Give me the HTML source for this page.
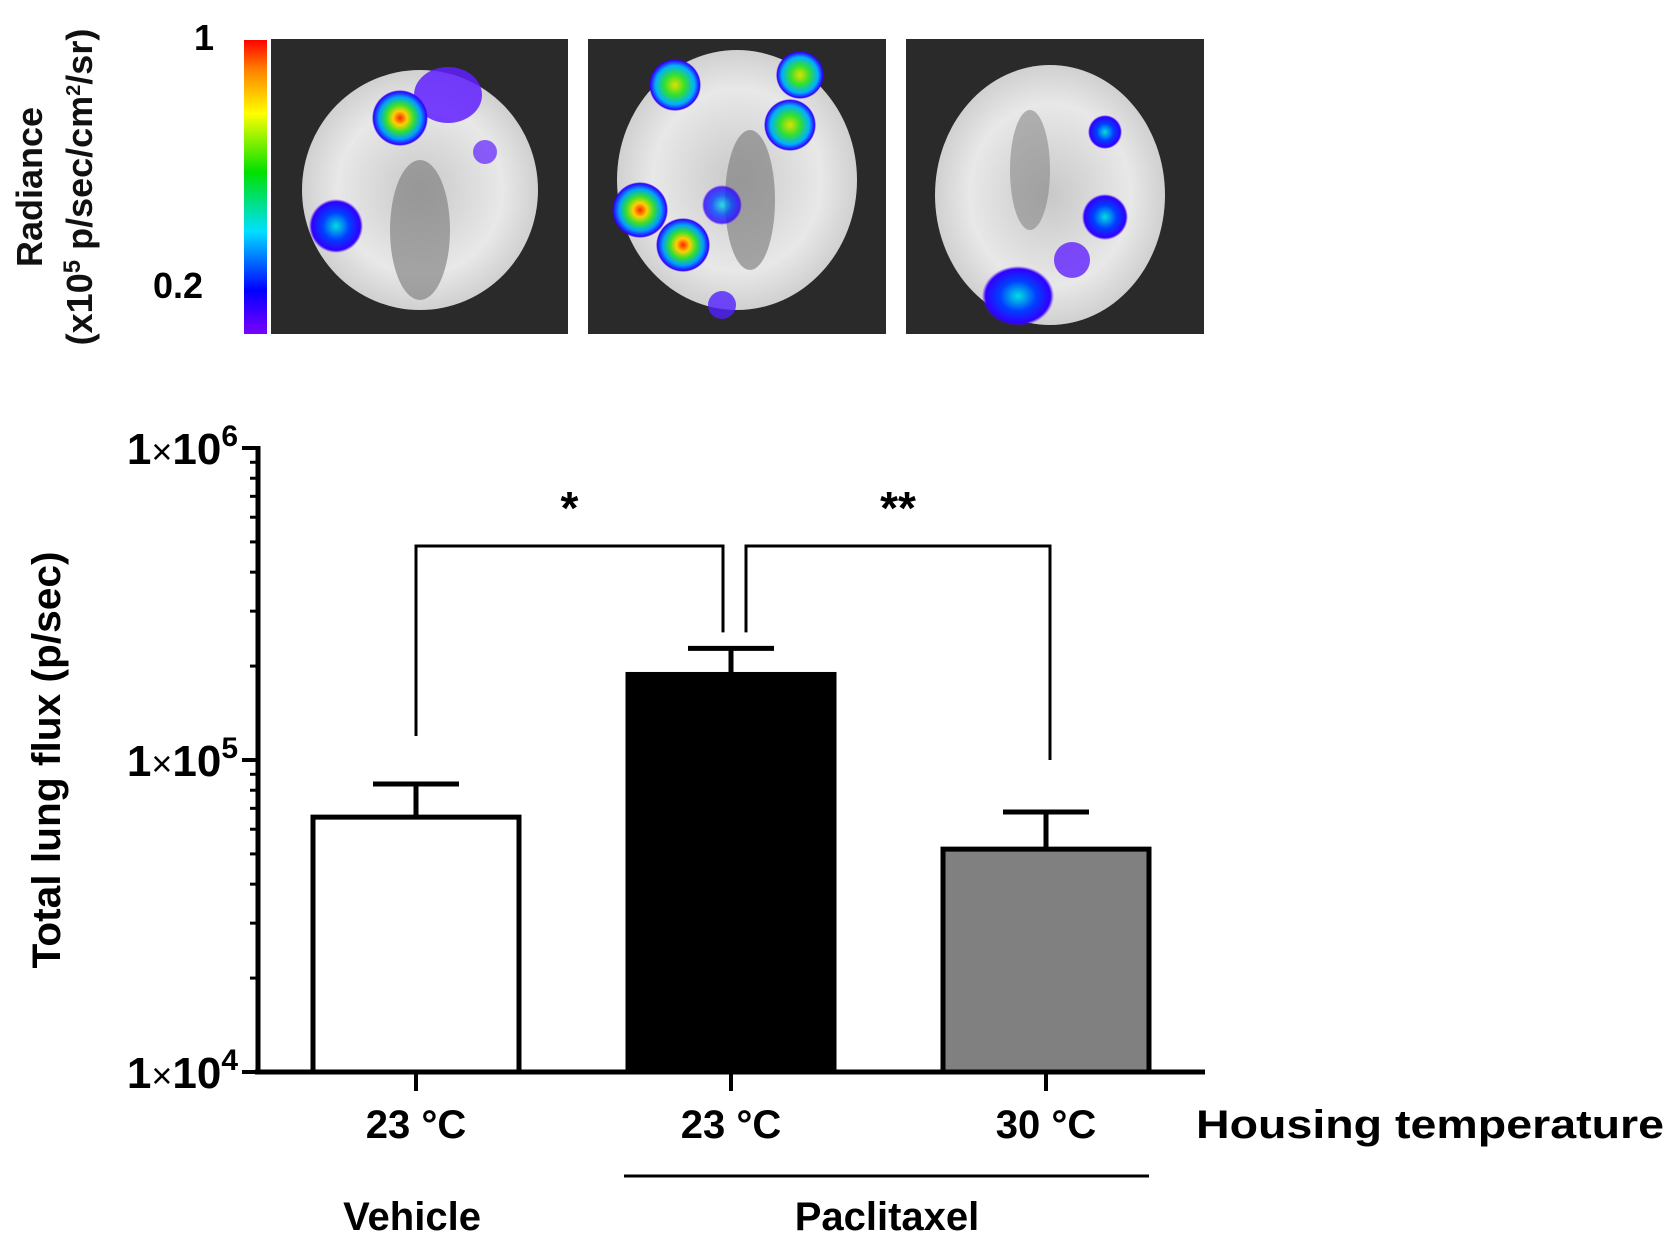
<!DOCTYPE html>
<html><head><meta charset="utf-8">
<style>
html,body{margin:0;padding:0;background:#fff;}
svg{display:block;font-family:"Liberation Sans",sans-serif;}
</style></head>
<body>
<svg width="1677" height="1246" viewBox="0 0 1677 1246" xmlns="http://www.w3.org/2000/svg">
<defs>
<linearGradient id="cbar" x1="0" y1="1" x2="0" y2="0">
<stop offset="0" stop-color="#7a00ff"/><stop offset="0.15" stop-color="#0000ff"/><stop offset="0.35" stop-color="#00e0ff"/><stop offset="0.55" stop-color="#00e000"/><stop offset="0.75" stop-color="#ffff00"/><stop offset="0.9" stop-color="#ff8000"/><stop offset="1" stop-color="#ff0000"/>
</linearGradient>
<radialGradient id="hot"><stop offset="0" stop-color="#ff2000"/><stop offset="0.25" stop-color="#ffd000"/><stop offset="0.5" stop-color="#30e030"/><stop offset="0.75" stop-color="#00a0ff"/><stop offset="0.95" stop-color="#3000ff"/><stop offset="1" stop-color="#3000ff" stop-opacity="0"/></radialGradient>
<radialGradient id="warm"><stop offset="0" stop-color="#e0e000"/><stop offset="0.4" stop-color="#30e030"/><stop offset="0.75" stop-color="#00b0ff"/><stop offset="0.95" stop-color="#3000ff"/><stop offset="1" stop-color="#3000ff" stop-opacity="0"/></radialGradient>
<radialGradient id="cool"><stop offset="0" stop-color="#00e0e0"/><stop offset="0.5" stop-color="#0040ff"/><stop offset="0.9" stop-color="#3000ff"/><stop offset="1" stop-color="#5000ff" stop-opacity="0"/></radialGradient>
<radialGradient id="lung"><stop offset="0" stop-color="#c8c8c8"/><stop offset="0.7" stop-color="#e8e8e8"/><stop offset="1" stop-color="#d0d0d0"/></radialGradient>
</defs>

<g font-weight="bold" font-size="36" fill="#111">
<text transform="translate(42,187) rotate(-90)" text-anchor="middle">Radiance</text>
<text transform="translate(92,187) rotate(-90)" text-anchor="middle">(x10<tspan font-size="24" dy="-12">5</tspan><tspan dy="12"> p/sec/cm</tspan><tspan font-size="20" dy="-12">2</tspan><tspan dy="12">/sr)</tspan></text>
</g>
<text x="204" y="50" font-size="36" font-weight="bold" text-anchor="middle">1</text>
<text x="178" y="298" font-size="36" font-weight="bold" text-anchor="middle">0.2</text>
<rect x="244" y="40" width="23" height="294" fill="url(#cbar)"/>

<g>
<rect x="271" y="39" width="297" height="295" fill="#2a2a2a"/>
<ellipse cx="420" cy="190" rx="118" ry="120" fill="url(#lung)"/>
<ellipse cx="420" cy="230" rx="30" ry="70" fill="#777" opacity="0.6"/>
<ellipse cx="448" cy="95" rx="34" ry="28" fill="#6020ff" opacity="0.85"/>
<circle cx="400" cy="118" r="28" fill="url(#hot)"/>
<circle cx="336" cy="226" r="27" fill="url(#cool)"/>
<circle cx="485" cy="152" r="12" fill="#6020ff" opacity="0.7"/>
</g>
<g>
<rect x="588" y="39" width="298" height="295" fill="#2a2a2a"/>
<ellipse cx="737" cy="180" rx="120" ry="130" fill="url(#lung)"/>
<ellipse cx="750" cy="200" rx="25" ry="70" fill="#777" opacity="0.6"/>
<circle cx="675" cy="85" r="26" fill="url(#warm)"/>
<circle cx="800" cy="75" r="24" fill="url(#warm)"/>
<circle cx="790" cy="125" r="26" fill="url(#warm)"/>
<circle cx="640" cy="210" r="28" fill="url(#hot)"/>
<circle cx="683" cy="245" r="27" fill="url(#hot)"/>
<circle cx="722" cy="205" r="20" fill="url(#cool)" opacity="0.8"/>
<circle cx="722" cy="305" r="14" fill="#5020ff" opacity="0.8"/>
</g>
<g>
<rect x="906" y="39" width="298" height="295" fill="#2a2a2a"/>
<ellipse cx="1050" cy="195" rx="115" ry="130" fill="url(#lung)"/>
<ellipse cx="1030" cy="170" rx="20" ry="60" fill="#777" opacity="0.5"/>
<circle cx="1105" cy="132" r="17" fill="url(#cool)"/>
<circle cx="1105" cy="217" r="23" fill="url(#cool)"/>
<circle cx="1072" cy="260" r="18" fill="#6020ff" opacity="0.8"/>
<ellipse cx="1018" cy="296" rx="36" ry="30" fill="url(#cool)"/>
</g>

<g id="chart"></g>
<text transform="translate(60,760) rotate(-90)" text-anchor="middle" font-size="40" font-weight="bold" textLength="417" lengthAdjust="spacingAndGlyphs">Total lung flux (p/sec)</text>
<text x="1196" y="1138" font-size="40" font-weight="bold" textLength="468" lengthAdjust="spacingAndGlyphs">Housing temperature</text>
<line x1="624" y1="1176" x2="1149" y2="1176" stroke="#000" stroke-width="3"/>
<text x="412" y="1230" font-size="40" font-weight="bold" text-anchor="middle">Vehicle</text>
<text x="887" y="1230" font-size="40" font-weight="bold" text-anchor="middle">Paclitaxel</text>

<script>
const categories = ["23 °C", "23 °C", "30 °C"];
const means = [65600, 188000, 51800];
const errors = [18200, 40000, 16300];
const fills = ["#ffffff", "#000000", "#808080"];
const tickExps = [4, 5, 6];

const NS = "http://www.w3.org/2000/svg";
const chart = document.getElementById("chart");
const yMin = 4, yMax = 6, yBottom = 1072, yTop = 448;
const xLeft = 258, xRight = 1205;
function y(v){ return yBottom - (Math.log10(v) - yMin) / (yMax - yMin) * (yBottom - yTop); }
const step = 315, first = 416, barW = 210;
function x(i){ return first + i * step; }
function mk(tag, attrs, parent){ const e = document.createElementNS(NS, tag); for (const k in attrs) e.setAttribute(k, attrs[k]); (parent || chart).appendChild(e); return e; }

means.forEach((m, i) => {
  const cx = x(i);
  const eb = mk("line", {x1: cx, x2: cx, y1: y(m + errors[i]), y2: y(m), stroke: "#000", "stroke-width": 5});
  
  
  const cap = mk("line", {x1: cx - 43, x2: cx + 43, y1: y(m + errors[i]), y2: y(m + errors[i]), stroke: "#000", "stroke-width": 5});
  
  
  const b = mk("rect", {x: cx - barW / 2 + 2, y: y(m), width: barW - 4, height: yBottom - y(m), fill: fills[i], stroke: "#000", "stroke-width": 5});
  
  
  const t = mk("line", {x1: cx, x2: cx, y1: yBottom, y2: yBottom + 19, stroke: "#000", "stroke-width": 4});
  
  
  const lbl = mk("text", {x: cx, y: 1138, "font-size": 40, "font-weight": "bold", "text-anchor": "middle"});
  lbl.textContent = categories[i];
  
  
});

const ya = mk("line", {x1: xLeft, x2: xLeft, y1: yTop - 2, y2: yBottom + 2, stroke: "#000", "stroke-width": 5});


const xa = mk("line", {x1: xLeft - 3, x2: xRight, y1: yBottom, y2: yBottom, stroke: "#000", "stroke-width": 5});


for (let e = yMin; e < yMax; e++) {
  for (let k = 2; k <= 9; k++) {
    const mt = mk("line", {x1: xLeft - 8, x2: xLeft, y1: y(k * Math.pow(10, e)), y2: y(k * Math.pow(10, e)), stroke: "#000", "stroke-width": 3});
    
    
  }
}
tickExps.forEach(e => {
  const yy = y(Math.pow(10, e));
  const t = mk("line", {x1: xLeft - 16, x2: xLeft, y1: yy, y2: yy, stroke: "#000", "stroke-width": 4});
  
  
  const lbl = mk("text", {x: 238, y: yy + 16, "font-size": 44, "font-weight": "bold", "text-anchor": "end"});
  
  
  lbl.appendChild(document.createTextNode("1"));
  const tx = mk("tspan", {"font-size": 36, "font-weight": "normal"}, lbl);
  tx.textContent = "×";
  const tt = mk("tspan", {}, lbl);
  tt.textContent = "10";
  const sup = mk("tspan", {"font-size": 30, dy: -18}, lbl);
  sup.textContent = String(e);
});

function bracket(x1, yl, x2, yr, yb, label, name){
  const p = mk("path", {d: `M${x1},${yl} V${yb} H${x2} V${yr}`, fill: "none", stroke: "#000", "stroke-width": 3});
  
  
  const t = mk("text", {x: (x1 + x2) / 2, y: 524, "font-size": 46, "font-weight": "bold", "text-anchor": "middle"});
  t.textContent = label;
  
  
}
bracket(x(0), y(means[0] + errors[0]) - 48, x(1) - 8, y(means[1] + errors[1]) - 16, 546, "*", "significance-bracket-1");
bracket(x(1) + 15, y(means[1] + errors[1]) - 16, x(2) + 4, y(means[2] + errors[2]) - 52, 546, "**", "significance-bracket-2");
</script>
</svg>
</body></html>
